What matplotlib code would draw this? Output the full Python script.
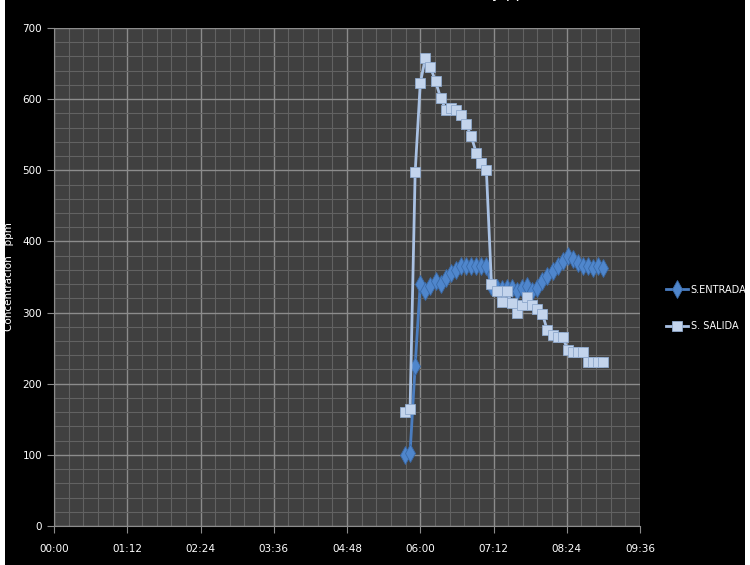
import matplotlib.pyplot as plt
from matplotlib.ticker import MultipleLocator, FuncFormatter
from matplotlib.patches import Rectangle

# tiempos cada 5 minutos desde 05:45 hasta 09:00
t_inicio = 5 * 60 + 45
tiempos = [t_inicio + 5 * i for i in range(40)]

s_entrada = [100, 103, 225, 340, 330, 338, 345, 340, 348, 355,
             360, 365, 365, 365, 365, 365, 365, 338, 335, 333,
             335, 335, 330, 335, 338, 330, 335, 345, 352, 358,
             365, 372, 380, 375, 370, 365, 365, 362, 365, 362]

s_salida = [160, 165, 497, 622, 658, 645, 625, 602, 585, 587,
            585, 578, 565, 548, 525, 510, 500, 340, 330, 315,
            330, 313, 300, 310, 322, 310, 305, 298, 275, 268,
            265, 265, 248, 245, 245, 245, 230, 230, 230, 230]

fig = plt.figure(figsize=(7.5, 5.65), dpi=100, facecolor="white")
# fondo negro del grafico (bordes blancos de la hoja)
fig.patches.append(Rectangle((5 / 750, 0), 740 / 750, 1, transform=fig.transFigure,
                             facecolor="black", edgecolor="none", zorder=-10))

ax = fig.add_axes([54 / 750, 39 / 565, 586 / 750, 498 / 565])
ax.set_zorder(2)
ax.set_facecolor("#404040")

ax.plot(tiempos, s_entrada, color="#4a7dc0", lw=2, marker="d", ms=9,
        mfc="#4f86cc", mec="#3a6aa8", mew=0.6, label="S.ENTRADA", zorder=3)
ax.plot(tiempos, s_salida, color="#a9c1e3", lw=2, marker="s", ms=7.5,
        mfc="#c3d4ec", mec="#8ea8cc", mew=0.6, label="S. SALIDA", zorder=4)

ax.set_xlim(0, 576)
ax.set_ylim(0, 700)
ax.xaxis.set_major_locator(MultipleLocator(72))
ax.xaxis.set_minor_locator(MultipleLocator(14.4))
ax.yaxis.set_major_locator(MultipleLocator(100))
ax.yaxis.set_minor_locator(MultipleLocator(20))
ax.xaxis.set_major_formatter(FuncFormatter(lambda v, p: "%02d:%02d" % (int(round(v)) // 60, int(round(v)) % 60)))

ax.grid(which="major", color="#8c8c8c", lw=1.0)
ax.grid(which="minor", color="#626262", lw=0.8)
ax.set_axisbelow(True)

for s in ["top", "right"]:
    ax.spines[s].set_visible(False)
for s in ["left", "bottom"]:
    ax.spines[s].set_color("#8c8c8c")

ax.tick_params(which="major", colors="white", labelsize=7.5, length=5, color="#8c8c8c")
ax.tick_params(which="minor", length=0)
ax.tick_params(axis="x", pad=8)

ax.set_ylabel("Concentración   ppm", color="white", fontsize=7.5)
ax.yaxis.set_label_coords(-0.068, 0.5)

fig.text(0.587, 1.012, "Concentración SO2 y ppm", color="white", fontsize=11,
         ha="center", va="center")

leg = ax.legend(loc="center left", bbox_to_anchor=(1.03, 0.438), frameon=False,
                fontsize=7, labelcolor="white", handlelength=2.2, labelspacing=2.7,
                handletextpad=0.3)

fig.savefig("out.png", dpi=100, facecolor=fig.get_facecolor())
